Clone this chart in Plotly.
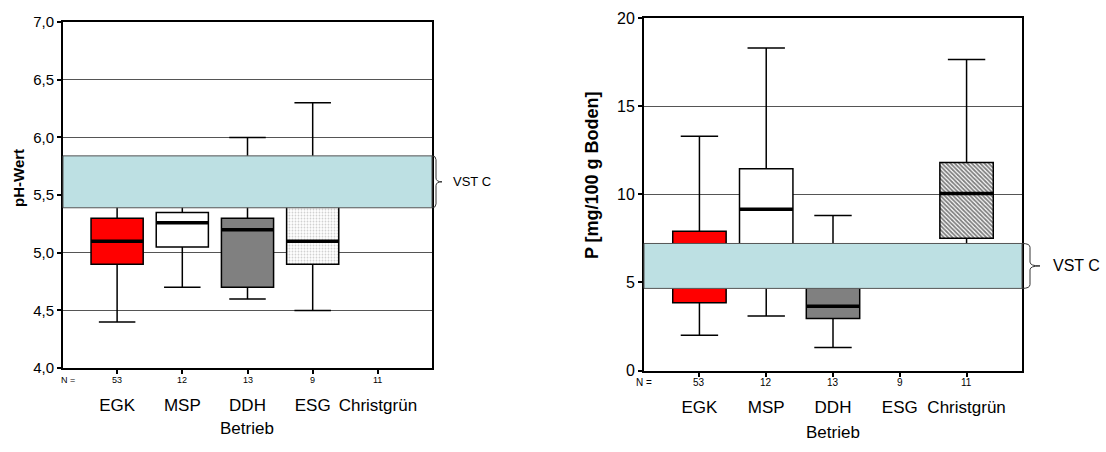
import plotly.graph_objects as go

# ---------------- data ----------------
CATS = ["EGK", "MSP", "DDH", "ESG", "Christgrün"]
N_COUNTS = [53, 12, 13, 9, 11]

# pH-Wert (left panel)
PH_LOW = [4.40, 4.70, 4.60, 4.50, None]
PH_Q1 = [4.90, 5.05, 4.70, 4.90, None]
PH_MED = [5.10, 5.26, 5.20, 5.10, None]
PH_Q3 = [5.30, 5.35, 5.30, 5.50, None]
PH_HIGH = [5.60, 5.60, 6.00, 6.30, None]
PH_VST = [5.39, 5.84]
PH_TICKS = [4.0, 4.5, 5.0, 5.5, 6.0, 6.5, 7.0]

# P [mg/100 g Boden] (right panel)
P_LOW = [2.00, 3.10, 1.30, None, 5.50]
P_Q1 = [3.85, 6.00, 2.95, None, 7.50]
P_MED = [5.50, 9.15, 3.65, None, 10.05]
P_Q3 = [7.90, 11.45, 5.00, None, 11.80]
P_HIGH = [13.30, 18.30, 8.80, None, 17.65]
P_VST = [4.66, 7.21]
P_TICKS = [0, 5, 10, 15, 20]

# fill style per category
FILLS = ["#ff0000", "#ffffff", "#808080", "dots", "hatch"]
BAND_COLOR = "#bde0e3"
FONT = "Liberation Sans, Arial, sans-serif"
BOX_W = 0.8

W, H = 1106, 452

fig = go.Figure()


def add_panel(xa, ya, low, q1, med, q3, high):
    for i, cat in enumerate(CATS):
        if q1[i] is None:
            continue
        fill = FILLS[i]
        boxfill = fill
        if fill in ("dots", "hatch"):
            if fill == "dots":
                pat = dict(shape=".", fgcolor="#a0a0a0", bgcolor="#ffffff", size=3, solidity=0.3)
            else:
                pat = dict(shape="\\", fgcolor="#000000", bgcolor="#ffffff", size=3, solidity=0.6)
            fig.add_trace(go.Bar(
                x=[i], base=[q1[i]], y=[q3[i] - q1[i]], width=BOX_W,
                marker=dict(color="#ffffff", pattern=pat, line=dict(width=0)),
                xaxis=xa, yaxis=ya, showlegend=False, hoverinfo="skip"))
            boxfill = "rgba(0,0,0,0)"
        fig.add_trace(go.Box(
            x=[i], q1=[q1[i]], median=[med[i]], q3=[q3[i]],
            lowerfence=[low[i]], upperfence=[high[i]],
            width=BOX_W, whiskerwidth=0.7, fillcolor=boxfill,
            line=dict(color="#000000", width=1.5), boxpoints=False,
            xaxis=xa, yaxis=ya, showlegend=False, hoverinfo="skip"))
    # thick median lines
    mx, my = [], []
    for i in range(len(CATS)):
        if med[i] is None:
            continue
        mx += [i - BOX_W / 2, i + BOX_W / 2, None]
        my += [med[i], med[i], None]
    fig.add_trace(go.Scatter(x=mx, y=my, mode="lines", line=dict(color="#000000", width=3.5),
                             xaxis=xa, yaxis=ya, showlegend=False, hoverinfo="skip"))


add_panel("x", "y", PH_LOW, PH_Q1, PH_MED, PH_Q3, PH_HIGH)
add_panel("x2", "y2", P_LOW, P_Q1, P_MED, P_Q3, P_HIGH)


def band(xref, yref, vst, px_dom, px_per_unit, brace_v, brace_t, text_dx, text_size):
    y0, y1 = vst
    ym = (y0 + y1) / 2
    fig.add_shape(type="rect", xref=xref + " domain", yref=yref, x0=0, x1=1, y0=y0, y1=y1,
                  fillcolor=BAND_COLOR, line=dict(color="#555555", width=1), layer="above")
    xv = 1 + brace_v / px_dom
    xt = 1 + brace_t / px_dom
    r = 4 / px_per_unit
    path = (f"M 1,{y1} Q {xv},{y1} {xv},{y1 - r} L {xv},{ym + r} Q {xv},{ym} {xt},{ym} "
            f"Q {xv},{ym} {xv},{ym - r} L {xv},{y0 + r} Q {xv},{y0} 1,{y0}")
    fig.add_shape(type="path", xref=xref + " domain", yref=yref, path=path,
                  line=dict(color="#333333", width=1), layer="above")
    fig.add_annotation(xref=xref + " domain", yref=yref, x=1 + text_dx / px_dom, y=ym,
                       text="VST C", showarrow=False, xanchor="left", yanchor="middle",
                       font=dict(family=FONT, size=text_size, color="#000000"))


band("x", "y", PH_VST, 369, 120.1, 4, 10, 19, 13)
band("x2", "y2", P_VST, 378, 18.33, 8, 18, 29, 16)

axis_common = dict(showline=True, linecolor="#000000", linewidth=2, mirror=True, zeroline=False,
                   ticks="outside", ticklen=4, tickwidth=2, tickcolor="#000000")

fig.update_layout(
    width=W, height=H, margin=dict(l=0, r=0, t=0, b=0),
    paper_bgcolor="#ffffff", plot_bgcolor="#ffffff",
    separators=",.", barmode="overlay", boxmode="overlay",
    font=dict(family=FONT, color="#000000"),
    xaxis=dict(domain=[63 / W, 432 / W], range=[-0.83, 4.83], showgrid=False,
               tickvals=list(range(len(CATS))), ticktext=CATS, anchor="y",
               tickfont=dict(size=17), ticklabelstandoff=16, **axis_common),
    yaxis=dict(domain=[(H - 374) / H, (H - 13.6) / H], range=[4, 7], tickvals=PH_TICKS,
               tickformat=".1f", showgrid=True, gridcolor="#555555", gridwidth=1, anchor="x",
               tickfont=dict(size=15), **axis_common),
    xaxis2=dict(domain=[644 / W, 1022 / W], range=[-0.83, 4.83], showgrid=False,
                tickvals=list(range(len(CATS))), ticktext=CATS, anchor="y2",
                tickfont=dict(size=17), ticklabelstandoff=16, **axis_common),
    yaxis2=dict(domain=[(H - 376.5) / H, (H - 9.5) / H], range=[0, 20], tickvals=P_TICKS,
                showgrid=True, gridcolor="#555555", gridwidth=1, anchor="x2",
                tickfont=dict(size=16), **axis_common),
)

# N counts
for xa, ypx, nsize, ndx in (("x", 386, 9, -0.012), ("x2", 389, 10, -0.026)):
    fig.add_annotation(xref=xa + " domain", yref="paper", x=ndx, y=(H - ypx) / H, text="N =",
                       showarrow=False, xanchor="left", yanchor="middle",
                       font=dict(family=FONT, size=nsize))
    for i, n in enumerate(N_COUNTS):
        fig.add_annotation(xref=xa, yref="paper", x=i, y=(H - ypx) / H, text=str(n),
                           showarrow=False, xanchor="center", yanchor="middle",
                           font=dict(family=FONT, size=nsize))

# axis titles
fig.add_annotation(xref="x domain", yref="paper", x=0.5, y=(H - 437) / H, text="Betrieb",
                   showarrow=False, yanchor="middle", font=dict(family=FONT, size=17))
fig.add_annotation(xref="x2 domain", yref="paper", x=0.5, y=(H - 441) / H, text="Betrieb",
                   showarrow=False, yanchor="middle", font=dict(family=FONT, size=17))
fig.add_annotation(xref="paper", yref="paper", x=19 / W, y=(H - 176) / H, text="<b>pH-Wert</b>",
                   textangle=-90, showarrow=False, xanchor="center", yanchor="middle",
                   font=dict(family=FONT, size=15))
fig.add_annotation(xref="paper", yref="paper", x=592 / W, y=(H - 173) / H,
                   text="<b>P [mg/100 g Boden]</b>", textangle=-90, showarrow=False,
                   xanchor="center", yanchor="middle", font=dict(family=FONT, size=18))

fig.write_html("out.html")
